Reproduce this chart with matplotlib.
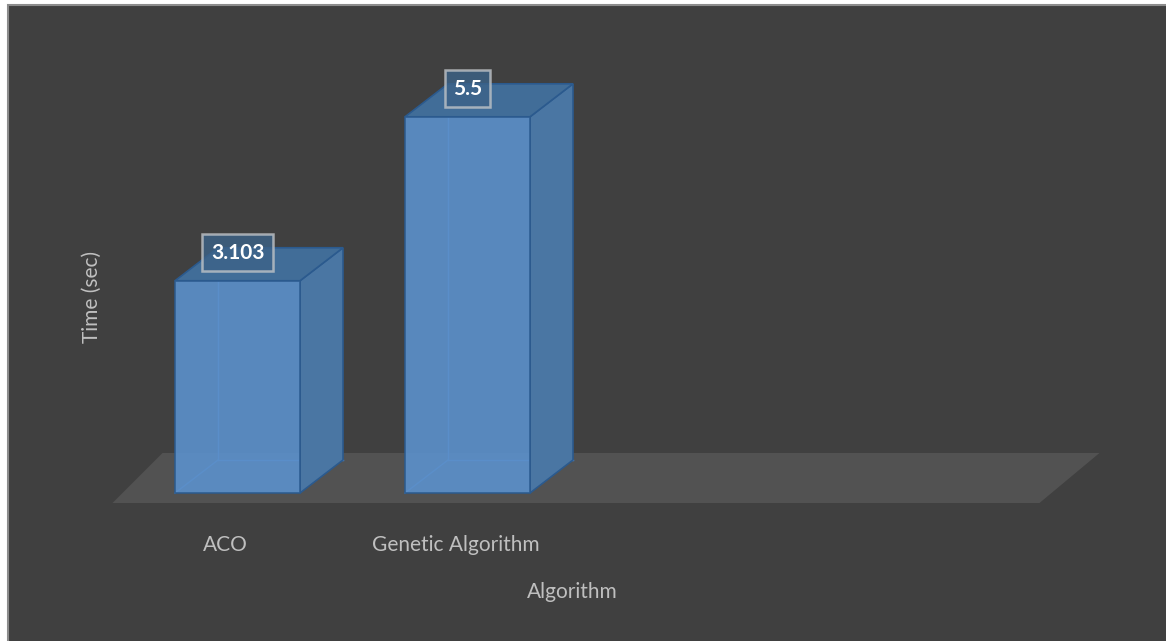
import numpy as np
import matplotlib.pyplot as plt
from matplotlib.patches import Polygon, Rectangle

# data
algorithms = ["ACO", "Genetic Algorithm"]
times = [3.103, 5.5]
value_labels = ["3.103", "5.5"]

W, H = 1166, 641
fig = plt.figure(figsize=(W / 100, H / 100), dpi=100, facecolor="white")

# dark chart area with thin grey frame (right/bottom edges run off the figure)
fig.patches.append(Rectangle((7.5 / W, -0.01), 1.02 - 7.5 / W, 1.01 - 4.5 / H, transform=fig.transFigure,
                             facecolor="#404040", edgecolor="#8c8c8c", linewidth=1.5, zorder=-5))

ax = fig.add_axes([0, 0, 1, 1])
ax.set_facecolor("none")
ax.axis("off")
ax.set_zorder(1)

# pixel -> data mapping: category spacing 230 px, 68.4 px per second, baseline at y=493
px_x, px_v = 230.0, 68.4
x0, base = 237.5, 493.0
ax.set_xlim(-x0 / px_x, (W - x0) / px_x)
ax.set_ylim((base - H) / px_v, base / px_v)

x = np.arange(len(algorithms))
width = 125 / px_x
dx, dy = 43 / px_x, 33 / px_v  # 3d depth

# floor
fl_front, fl_back = (base - 503) / px_v, (base - 453) / px_v
floor = Polygon([(-125 / px_x, fl_front), (802 / px_x, fl_front),
                 (862 / px_x, fl_back), (-75 / px_x, fl_back)],
                closed=True, facecolor="#525252", edgecolor="none", zorder=1)
ax.add_patch(floor)

front_c = "#5b8fc9"
side_c = "#4a76a3"
top_c = "#416d98"
edge_c = "#2b5a8e"

for xi, t in zip(x, times):
    l, r = xi - width / 2, xi + width / 2
    # hidden back edges (seen through the transparent front)
    ax.plot([l + dx, l + dx], [dy, t + dy], color="#4f8cd0", lw=1, zorder=2)
    ax.plot([l, l + dx], [0, dy], color="#4f8cd0", lw=1, zorder=2)
    ax.plot([l + dx, r + dx], [dy, dy], color="#4f8cd0", lw=1, zorder=2)
    side = Polygon([(r, 0), (r + dx, dy), (r + dx, t + dy), (r, t)], closed=True,
                   facecolor=side_c, edgecolor=edge_c, lw=1.2, zorder=3)
    top = Polygon([(l, t), (l + dx, t + dy), (r + dx, t + dy), (r, t)], closed=True,
                  facecolor=top_c, edgecolor=edge_c, lw=1.2, zorder=3)
    ax.add_patch(side)
    ax.add_patch(top)

ax.bar(x, times, width=width, color=front_c, alpha=0.92, edgecolor=edge_c, linewidth=1.2, zorder=4)

for xi, t, lab in zip(x, times, value_labels):
    ax.text(xi, t + 28 / px_v, lab, ha="center", va="center", color="white", fontsize=15,
            fontweight="bold", family="Lato", zorder=6,
            bbox=dict(boxstyle="square,pad=0.4", facecolor="#3c6288", alpha=0.8,
                      edgecolor="#c0c4c8", linewidth=1.8))

# category labels
lab_shift = [-12, -11.5]
for xi, lab, s in zip(x, algorithms, lab_shift):
    ax.text(xi + s / px_x, (base - 545) / px_v, lab,
            ha="center", va="center", color="#bfbfbf", fontsize=15, family="Lato")

ax.text((572 - x0) / px_x, (base - 592) / px_v, "Algorithm", ha="center", va="center",
        color="#bfbfbf", fontsize=15, family="Lato")
ax.text((92 - x0) / px_x, (base - 297) / px_v, "Time (sec)", ha="center", va="center",
        rotation=90, color="#bfbfbf", fontsize=15, family="Lato")

fig.savefig("out.png", dpi=100, facecolor=fig.get_facecolor())
